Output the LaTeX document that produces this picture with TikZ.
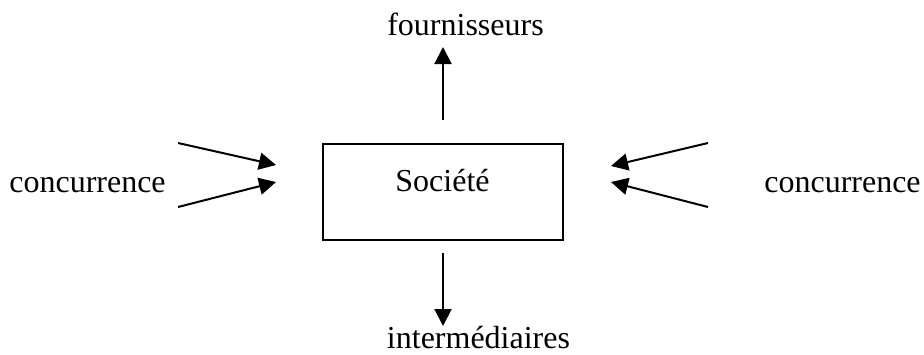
\documentclass[tikz,border=0pt]{standalone}
\usepackage{fontspec}
\setmainfont{Liberation Serif}
\usetikzlibrary{arrows.meta}
\tikzset{
  lbl/.style={anchor=base, inner sep=0pt, font=\fontsize{32}{38}\selectfont},
  arr/.style={line width=2pt, -{Triangle[length=17pt,width=17pt]}},
  boxnode/.style={draw, line width=2pt, minimum width=240pt, minimum height=96pt,
    inner sep=0pt, text height=10pt, text depth=10pt, font=\fontsize{32}{38}\selectfont}
}
\begin{document}
\begin{tikzpicture}[x=1pt,y=-1pt]
\useasboundingbox (0,0) rectangle (924,354);
\node[boxnode] (soc) at (442.5,191.5) {Soci\'et\'e};
\node[lbl] (cl) at (87.5,192) {concurrence};
\node[lbl] (cr) at (842.5,192) {concurrence};
\node[lbl] (fo) at (465.5,35) {fournisseurs};
\node[lbl] (in) at (478.5,348) {interm\'ediaires};
\coordinate (lu0) at (178,143); \coordinate (lu1) at (276,165);
\coordinate (ll0) at (178,207); \coordinate (ll1) at (276,182);
\coordinate (ru0) at (708,143); \coordinate (ru1) at (611,166);
\coordinate (rl0) at (708,207); \coordinate (rl1) at (611,182);
\coordinate (up0) at (443,120); \coordinate (up1) at (443,47);
\coordinate (dn0) at (443,253); \coordinate (dn1) at (443,326);
\draw[arr] (lu0) -- (lu1);
\draw[arr] (ll0) -- (ll1);
\draw[arr] (ru0) -- (ru1);
\draw[arr] (rl0) -- (rl1);
\draw[arr] (up0) -- (up1);
\draw[arr] (dn0) -- (dn1);
\end{tikzpicture}
\end{document}
